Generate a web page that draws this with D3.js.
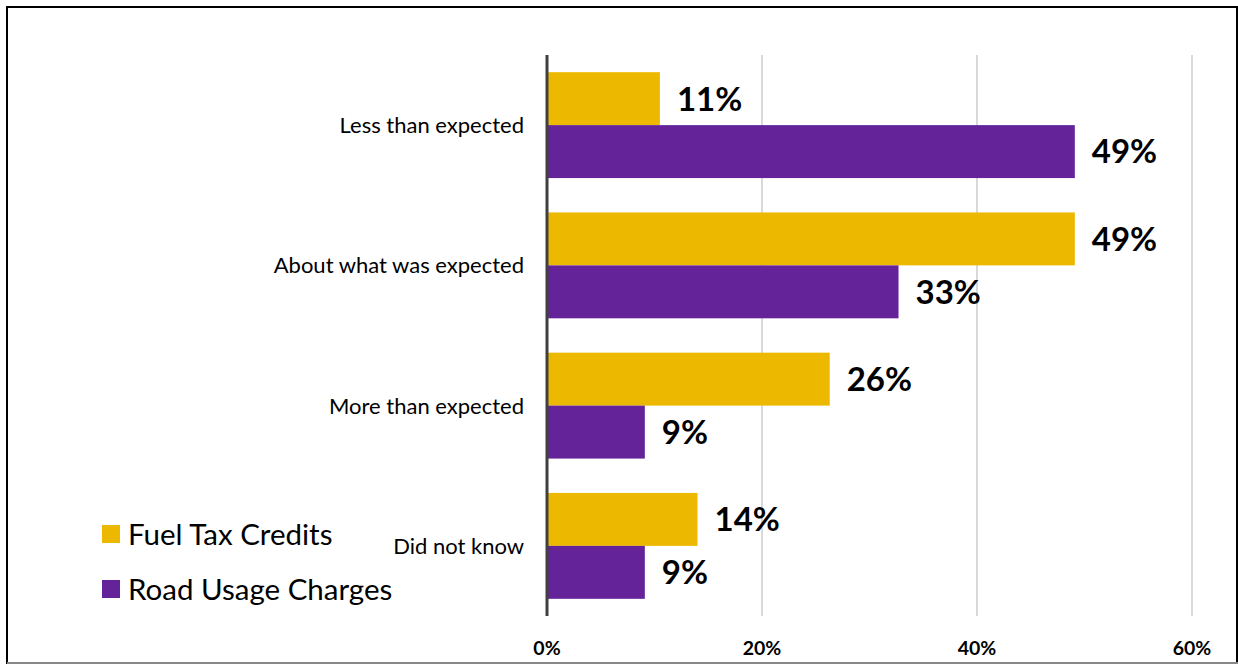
<!DOCTYPE html>
<html><head><meta charset="utf-8">
<script src="https://cdn.jsdelivr.net/npm/d3@7"></script>
<style>body{margin:0;background:#fff}svg{display:block}</style>
</head><body>
<script>
const categories = ["Less than expected","About what was expected","More than expected","Did not know"];
const seriesNames = ["Fuel Tax Credits","Road Usage Charges"];
const fuelTax = [10.5, 49.1, 26.3, 14.0];
const roadUsage = [49.1, 32.7, 9.1, 9.1];
const valueLabels = [["11%","49%","26%","14%"],["49%","33%","9%","9%"]];
const tickValues = [0, 20, 40, 60];
const colors = ["#EDB900","#65239A"];

const W = 1238, H = 665;
const svg = d3.select("body").append("svg").attr("width", W).attr("height", H);
const font = "Lato, 'Open Sans', sans-serif";

// frame
svg.append("rect").attr("x",7).attr("y",7).attr("width",1230).attr("height",656)
  .attr("fill","none").attr("stroke","#000").attr("stroke-width",2);
svg.append("line").attr("x1",7).attr("x2",1238).attr("y1",663).attr("y2",663).attr("stroke","#888").attr("stroke-width",2);

const x = d3.scaleLinear().domain([0,60]).range([547,1192]);
const y = d3.scaleBand().domain(categories).range([55,616]).paddingInner(0.245).paddingOuter(0.1225);
const ySub = d3.scaleBand().domain([0,1]).range([0, y.bandwidth()]);

// gridlines
svg.append("g").selectAll("line").data(tickValues.slice(1)).join("line")
  .attr("x1", d=>x(d)).attr("x2", d=>x(d)).attr("y1",55).attr("y2",616)
  .attr("stroke","#d9d9d9").attr("stroke-width",2);

const series = [fuelTax, roadUsage];
series.forEach((vals, si) => {
  const g = svg.append("g");
  g.selectAll("rect").data(vals).join("rect")
    .attr("x", x(0)).attr("y", (d,i)=>y(categories[i]) + ySub(si))
    .attr("width", d=>x(d)-x(0)).attr("height", ySub.bandwidth())
    .attr("fill", colors[si]);
  g.selectAll("text").data(vals).join("text")
    .attr("x", d=>x(d)+17).attr("y", (d,i)=>y(categories[i]) + ySub(si) + ySub.bandwidth()/2)
    .attr("dy","0.36em").attr("font-family",font).attr("font-weight","bold")
    .attr("font-size",33).attr("fill","#000")
    .text((d,i)=>valueLabels[si][i]);
});

// axis line
svg.append("line").attr("x1",x(0)).attr("x2",x(0)).attr("y1",55).attr("y2",616)
  .attr("stroke","#404040").attr("stroke-width",3);

// category labels
svg.append("g").selectAll("text").data(categories).join("text")
  .attr("x",524).attr("y", d=>y(d)+y.bandwidth()/2).attr("dy","0.36em")
  .attr("text-anchor","end").attr("font-family",font).attr("font-size",22).attr("fill","#000")
  .text(d=>d);

// tick labels
svg.append("g").selectAll("text").data(tickValues).join("text")
  .attr("x", d=>x(d)).attr("y",648).attr("dy","0.36em").attr("text-anchor","middle")
  .attr("font-family",font).attr("font-weight","bold").attr("font-size",19.5).attr("fill","#000")
  .text(d=>d+"%");

// legend
const leg = svg.append("g");
seriesNames.forEach((n,i)=>{
  const cy = 534 + i*55;
  leg.append("rect").attr("x",102).attr("y",cy-9).attr("width",18).attr("height",18).attr("fill",colors[i]);
  leg.append("text").attr("x",128).attr("y",cy).attr("dy","0.36em")
    .attr("font-family",font).attr("font-size",29.5).attr("fill","#000").text(n);
});
</script>
</body></html>
